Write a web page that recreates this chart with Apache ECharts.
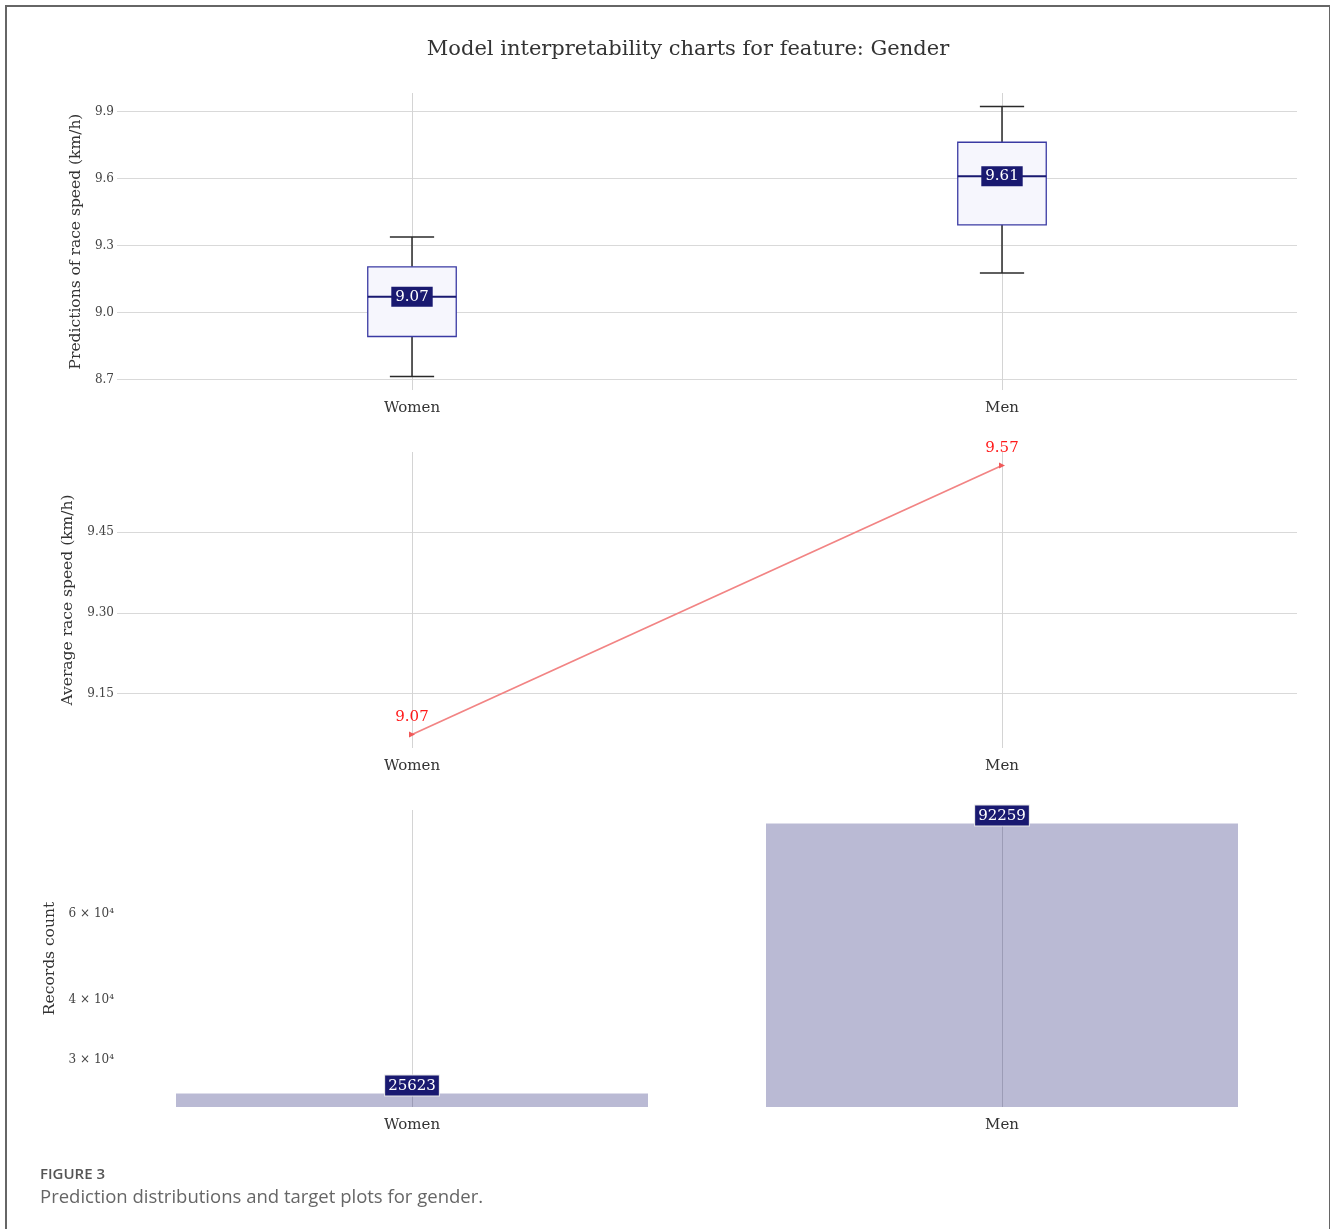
<!DOCTYPE html>
<html>
<head>
<meta charset="utf-8">
<title>Model interpretability charts for feature: Gender</title>
<script src="https://cdn.jsdelivr.net/npm/echarts@6/dist/echarts.min.js"></script>
<style>
  html, body { margin: 0; padding: 0; background: #fff; }
  #frame {
    position: absolute; left: 5px; top: 5px; width: 1326px; height: 1260px;
    border-left: 2px solid #666; border-top: 2px solid #666; border-right: 2px solid #666;
    box-sizing: border-box;
  }
  #chart { position: absolute; left: 0; top: 0; width: 1330px; height: 1229px; }
  .fig-label {
    position: absolute; left: 40px; top: 1163px; line-height: 20px;
    font-family: "Open Sans", sans-serif; font-size: 15px; font-weight: 600; color: #555;
  }
  .fig-caption {
    position: absolute; left: 40px; top: 1184px; line-height: 24px;
    font-family: "Open Sans", sans-serif; font-size: 18.5px; color: #666;
  }
</style>
</head>
<body>
<div id="frame"></div>
<div id="chart"></div>
<div class="fig-label">FIGURE 3</div>
<div class="fig-caption">Prediction distributions and target plots for gender.</div>
<script>
// ---- data ----
const categories = ['Women', 'Men'];
// prediction distribution per category: lower whisker, Q1, median, Q3, upper whisker
const predWomen = [8.713, 8.892, 9.07, 9.204, 9.338];
const predMen = [9.177, 9.392, 9.61, 9.762, 9.922];
const predTicks = [8.7, 9.0, 9.3, 9.6, 9.9];
// observed average race speed per category
const avgSpeed = [9.074, 9.574];
const avgTicks = [9.15, 9.30, 9.45];
// number of records per category
const recordCounts = [25623, 92259];
const countTicks = [30000, 40000, 60000];

// ---- helpers ----
const SERIF = '"DejaVu Serif", "Liberation Serif", serif';
const NAVY = '#191970';

// 5% padding around the data range (in log space for log axes)
function padded(values, log) {
  const v = log ? values.map(Math.log10) : values;
  const lo = Math.min(...v), hi = Math.max(...v), pad = (hi - lo) * 0.05;
  const r = [lo - pad, hi + pad];
  return log ? r.map(x => Math.pow(10, x)) : r;
}
const predRange = padded(predWomen.concat(predMen), false);
const avgRange = padded(avgSpeed, false);
const countRange = padded(recordCounts, true);

function sciLabel(v) {
  const e = Math.floor(Math.log10(v) + 1e-9);
  const m = Math.round(v / Math.pow(10, e));
  const sup = { '0': '⁰', '1': '¹', '2': '²', '3': '³', '4': '⁴', '5': '⁵', '6': '⁶', '7': '⁷', '8': '⁸', '9': '⁹' };
  return m + ' × 10' + String(e).split('').map(c => sup[c]).join('');
}

function bandWidth(api, v) {
  return api.coord([1, v])[0] - api.coord([0, v])[0];
}

function renderBox(params, api) {
  const i = api.value(0);
  const pts = [1, 2, 3, 4, 5].map(k => api.coord([i, api.value(k)]));
  const cx = pts[0][0];
  const [lo, q1, med, q3, hi] = pts.map(p => p[1]);
  const bw = bandWidth(api, api.value(3)) * 0.15;
  const cap = bw / 2;
  const wStyle = { stroke: '#2a2a2a', lineWidth: 1.5 };
  return {
    type: 'group',
    children: [
      { type: 'line', shape: { x1: cx, y1: q1, x2: cx, y2: lo }, style: wStyle },
      { type: 'line', shape: { x1: cx, y1: q3, x2: cx, y2: hi }, style: wStyle },
      { type: 'line', shape: { x1: cx - cap / 2, y1: lo, x2: cx + cap / 2, y2: lo }, style: wStyle },
      { type: 'line', shape: { x1: cx - cap / 2, y1: hi, x2: cx + cap / 2, y2: hi }, style: wStyle },
      { type: 'rect', shape: { x: cx - bw / 2, y: q3, width: bw, height: q1 - q3 },
        style: { fill: '#f6f6fd', stroke: '#3a3aa3', lineWidth: 1.3 } },
      { type: 'line', shape: { x1: cx - bw / 2, y1: med, x2: cx + bw / 2, y2: med },
        style: { stroke: NAVY, lineWidth: 2 } },
      { type: 'text', x: cx, y: med,
        style: { text: api.value(3).toFixed(2), fill: '#fff', fontSize: 15, fontFamily: SERIF,
                 align: 'center', verticalAlign: 'middle', backgroundColor: NAVY, padding: [3, 4, 2, 4] } }
    ]
  };
}

function renderBar(params, api) {
  const i = api.value(0), v = api.value(1);
  const top = api.coord([i, v]);
  const base = api.coord([i, countRange[0]]);
  const w = bandWidth(api, v) * 0.8;
  return {
    type: 'group',
    children: [
      { type: 'rect', shape: { x: top[0] - w / 2, y: top[1], width: w, height: base[1] - top[1] },
        style: { fill: 'rgba(25,25,112,0.3)' } },
      { type: 'text', x: top[0], y: top[1] + 2,
        style: { text: String(v), fill: '#fff', fontSize: 15, fontFamily: SERIF,
                 align: 'center', verticalAlign: 'bottom', backgroundColor: NAVY,
                 borderColor: '#e6e6e6', borderWidth: 1, padding: [3, 3, 2, 3] } }
    ]
  };
}

// vertical grid lines at each category, kept beneath the marks
function categoryGrid(idx) {
  return {
    type: 'line', xAxisIndex: idx, yAxisIndex: idx, data: [], silent: true, z: 0,
    markLine: {
      silent: true, symbol: 'none', label: { show: false }, animation: false, z: 0,
      lineStyle: { color: '#d4d4d4', width: 1, type: 'solid' },
      data: categories.map(c => ({ xAxis: c }))
    }
  };
}

const tickLabel = { color: '#444', fontSize: 12, fontFamily: SERIF, margin: 3 };
const nameStyle = { color: '#333', fontSize: 15.5, fontFamily: SERIF };
const splitStyle = { show: true, lineStyle: { color: '#d9d9d9', width: 1 } };

const gridBox = { left: 117, width: 1180 };
const grids = [
  Object.assign({ top: 93, height: 297 }, gridBox),
  Object.assign({ top: 452, height: 296 }, gridBox),
  Object.assign({ top: 810, height: 297 }, gridBox)
];

const xAxes = grids.map((g, i) => ({
  gridIndex: i, type: 'category', data: categories, boundaryGap: true,
  axisLine: { show: false }, axisTick: { show: false }, splitLine: { show: false },
  axisLabel: { color: '#333', fontSize: 15, fontFamily: SERIF, margin: 11 }
}));

const yAxes = [
  {
    gridIndex: 0, type: 'value', min: predRange[0], max: predRange[1],
    axisLine: { show: false }, axisTick: { show: false, customValues: predTicks },
    axisLabel: Object.assign({ customValues: predTicks, formatter: v => v.toFixed(1) }, tickLabel),
    splitLine: splitStyle,
    name: 'Predictions of race speed (km/h)', nameLocation: 'middle', nameGap: 28, nameTextStyle: nameStyle
  },
  {
    gridIndex: 1, type: 'value', min: avgRange[0], max: avgRange[1],
    axisLine: { show: false }, axisTick: { show: false, customValues: avgTicks },
    axisLabel: Object.assign({ customValues: avgTicks, formatter: v => v.toFixed(2) }, tickLabel),
    splitLine: splitStyle,
    name: 'Average race speed (km/h)', nameLocation: 'middle', nameGap: 37, nameTextStyle: nameStyle
  },
  {
    gridIndex: 2, type: 'log', logBase: 10, min: countRange[0], max: countRange[1],
    axisLine: { show: false }, axisTick: { show: false, customValues: countTicks },
    axisLabel: Object.assign({ customValues: countTicks, formatter: sciLabel }, tickLabel),
    splitLine: { show: false },
    name: 'Records count', nameLocation: 'middle', nameGap: 52, nameTextStyle: nameStyle
  }
];

const chart = echarts.init(document.getElementById('chart'), null, { renderer: 'canvas' });
chart.setOption({
  animation: false,
  backgroundColor: 'transparent',
  graphic: [{
    type: 'text', x: 688, y: 50,
    style: { text: 'Model interpretability charts for feature: Gender', fill: '#333',
             fontSize: 21, fontFamily: SERIF, align: 'center', verticalAlign: 'middle' }
  }],
  grid: grids,
  xAxis: xAxes,
  yAxis: yAxes,
  series: [
    categoryGrid(0), categoryGrid(1), categoryGrid(2),
    {
      type: 'custom', xAxisIndex: 0, yAxisIndex: 0, renderItem: renderBox,
      encode: { x: 0, y: [1, 2, 3, 4, 5] },
      data: [[0].concat(predWomen), [1].concat(predMen)], z: 3
    },
    {
      type: 'line', xAxisIndex: 1, yAxisIndex: 1, data: avgSpeed, z: 3,
      lineStyle: { color: '#f28484', width: 1.8 },
      itemStyle: { color: '#f05a5a' },
      symbol: 'triangle', symbolSize: 6, symbolRotate: -90, showSymbol: true,
      label: { show: true, position: 'top', distance: 7, color: '#ff1a1a', fontSize: 15,
               fontFamily: SERIF, formatter: p => p.value.toFixed(2) }
    },
    {
      type: 'custom', xAxisIndex: 2, yAxisIndex: 2, renderItem: renderBar,
      encode: { x: 0, y: 1 },
      data: recordCounts.map((v, i) => [i, v]), z: 3
    }
  ]
});
</script>
</body>
</html>
